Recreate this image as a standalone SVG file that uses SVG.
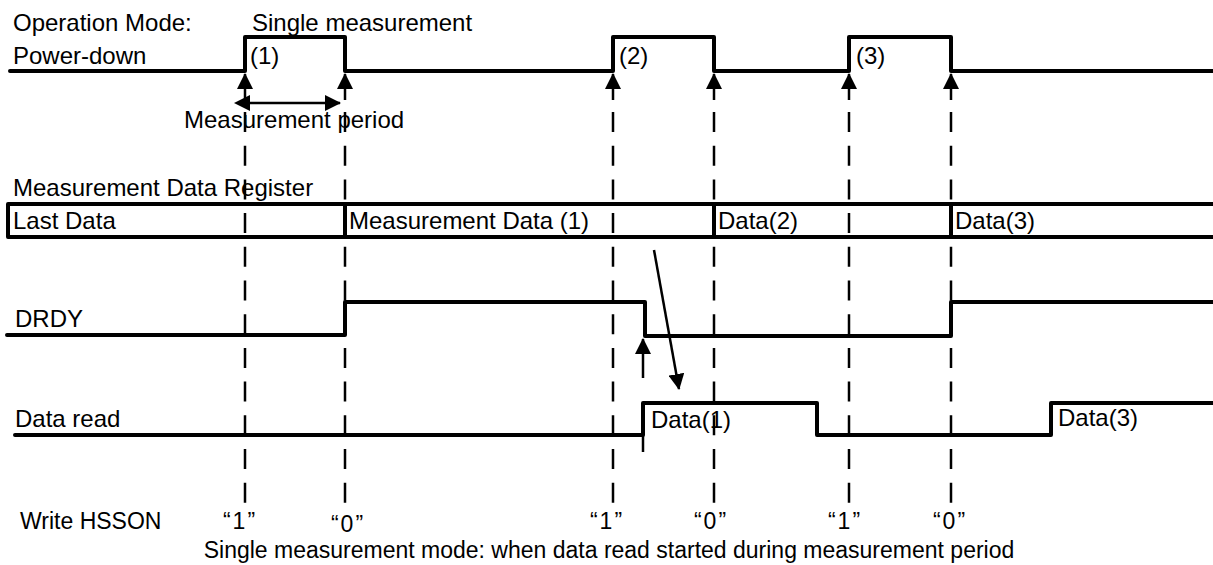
<svg xmlns="http://www.w3.org/2000/svg" width="1213" height="565" viewBox="0 0 1213 565">
<style>
text{font-family:"Liberation Sans",Arial,sans-serif;font-size:24px;fill:#000}
.sig{fill:none;stroke:#000;stroke-width:4;stroke-linejoin:round;stroke-linecap:round}
.dash{fill:none;stroke:#000;stroke-width:2.5;stroke-dasharray:20 13.7}
.arr{fill:none;stroke:#000;stroke-width:2.5}
.q{text-anchor:middle;letter-spacing:2px;font-size:23px}
.cap{font-size:23px}
</style>
<defs>
<marker id="ah" viewBox="0 0 16 16" refX="15" refY="8" markerWidth="16" markerHeight="16" markerUnits="userSpaceOnUse" orient="auto">
<path d="M0,0 L16,8 L0,16 Z" fill="#000"/>
</marker>
<marker id="ahs" viewBox="0 0 16 16" refX="1" refY="8" markerWidth="16" markerHeight="16" markerUnits="userSpaceOnUse" orient="auto-start-reverse">
<path d="M0,0 L16,8 L0,16 Z" fill="#000"/>
</marker>
</defs>
<rect width="1213" height="565" fill="#fff"/>

<g id="connectors">
<line class="arr" x1="245" y1="100" x2="245" y2="74" marker-end="url(#ah)"/>
<line class="arr" x1="345" y1="100" x2="345" y2="74" marker-end="url(#ah)"/>
<line class="arr" x1="613" y1="100" x2="613" y2="74" marker-end="url(#ah)"/>
<line class="arr" x1="714" y1="100" x2="714" y2="74" marker-end="url(#ah)"/>
<line class="arr" x1="849" y1="100" x2="849" y2="74" marker-end="url(#ah)"/>
<line class="arr" x1="951" y1="100" x2="951" y2="74" marker-end="url(#ah)"/>
<line class="dash" x1="245" y1="112" x2="245" y2="503"/>
<line class="dash" x1="345" y1="112" x2="345" y2="503"/>
<line class="dash" x1="613" y1="112" x2="613" y2="503"/>
<line class="dash" x1="714" y1="112" x2="714" y2="503"/>
<line class="dash" x1="849" y1="112" x2="849" y2="503"/>
<line class="dash" x1="951" y1="112" x2="951" y2="503"/>
<line class="arr" x1="643" y1="378" x2="643" y2="339" marker-end="url(#ah)"/>
<line class="arr" x1="643" y1="432" x2="643" y2="452"/>
<line class="arr" x1="249" y1="103" x2="340" y2="103" marker-start="url(#ahs)" marker-end="url(#ah)"/>
<line class="arr" x1="654" y1="250" x2="679" y2="389" stroke-width="2" marker-end="url(#ah)"/>
</g>

<g id="power-down">
<path class="sig" d="M10,71 H245 V37 H345 V71 H613 V37 H714 V71 H849 V37 H951 V71 H1215"/>
<text x="13" y="31">Operation Mode:</text>
<text x="252" y="31">Single measurement</text>
<text x="13" y="64">Power-down</text>
<text x="250" y="64">(1)</text>
<text x="619" y="64">(2)</text>
<text x="856" y="64">(3)</text>
<text x="184" y="128">Measurement period</text>
</g>

<g id="register">
<text x="13" y="196">Measurement Data Register</text>
<path class="sig" d="M1215,204 H8 V237 H1215"/>
<line class="sig" x1="345" y1="204" x2="345" y2="237"/>
<line class="sig" x1="714" y1="204" x2="714" y2="237"/>
<line class="sig" x1="951" y1="204" x2="951" y2="237"/>
<text x="13" y="229">Last Data</text>
<text x="349" y="229">Measurement Data (1)</text>
<text x="718" y="229">Data(2)</text>
<text x="955" y="229">Data(3)</text>
</g>

<g id="drdy">
<text x="15" y="327">DRDY</text>
<path class="sig" d="M7,335 H345 V302 H645 V336 H951 V302 H1215"/>
</g>

<g id="data-read">
<text x="15" y="427">Data read</text>
<path class="sig" d="M15,435 H643 V403 H817 V435 H1051 V403 H1215"/>
<text x="651" y="428">Data(1)</text>
<text x="1058" y="426">Data(3)</text>
</g>

<g id="write-hsson">
<text x="20" y="529" style="font-size:23px">Write HSSON</text>
<text class="q" x="240" y="529">“1”</text>
<text class="q" x="348" y="532">“0”</text>
<text class="q" x="607" y="529">“1”</text>
<text class="q" x="711" y="529">“0”</text>
<text class="q" x="845" y="529">“1”</text>
<text class="q" x="950" y="529">“0”</text>
</g>

<g id="caption">
<text class="cap" x="609" y="558" text-anchor="middle">Single measurement mode: when data read started during measurement period</text>
</g>
</svg>
